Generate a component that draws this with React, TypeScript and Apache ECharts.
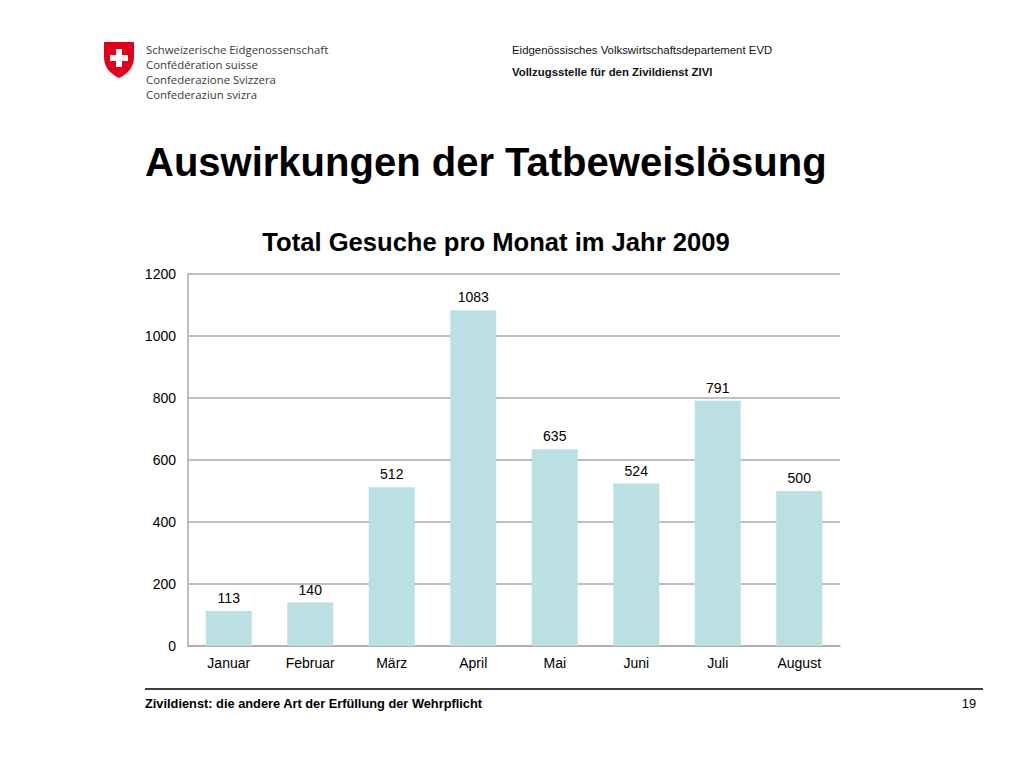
import React, { useEffect, useRef } from "react";
import * as echarts from "echarts";

const categories = ["Januar", "Februar", "März", "April", "Mai", "Juni", "Juli", "August"];
const values = [113, 140, 512, 1083, 635, 524, 791, 500];
const yTicks = { min: 0, max: 1200, interval: 200 };

const fedLines = [
  "Schweizerische Eidgenossenschaft",
  "Confédération suisse",
  "Confederazione Svizzera",
  "Confederaziun svizra",
];

echarts.graphic.registerShape(
  "shield",
  echarts.graphic.extendPath("M0 0 H30 V15 C30 26 23 32 15 36 C7 32 0 26 0 15 Z", {})
);

export default function App() {
  const ref = useRef<HTMLDivElement>(null);
  useEffect(() => {
    if (!ref.current) return;
    const chart = echarts.init(ref.current, null, { renderer: "svg" });
    const sans = "'Liberation Sans', Arial, sans-serif";
    const graphic: any[] = [
      { type: "shield", x: 104, y: 42, scaleX: 1, scaleY: 1, style: { fill: "#e2001a" } },
      { type: "rect", shape: { x: 116, y: 49, width: 6, height: 18 }, style: { fill: "#fff" } },
      { type: "rect", shape: { x: 110, y: 55, width: 18, height: 6 }, style: { fill: "#fff" } },
      ...fedLines.map((t, i) => ({
        type: "text",
        x: 146,
        y: 49 + i * 15,
        style: {
          text: t,
          font: "11.4px 'Open Sans', 'DejaVu Sans', sans-serif",
          fill: "#3a3a3a",
          verticalAlign: "middle",
        },
      })),
      {
        type: "text",
        x: 512,
        y: 50,
        style: { text: "Eidgenössisches Volkswirtschaftsdepartement EVD", font: `11.4px ${sans}`, fill: "#111", verticalAlign: "middle" },
      },
      {
        type: "text",
        x: 512,
        y: 72,
        style: { text: "Vollzugsstelle für den Zivildienst ZIVI", font: `bold 11.4px ${sans}`, fill: "#111", verticalAlign: "middle" },
      },
      {
        type: "text",
        x: 145,
        y: 162,
        style: { text: "Auswirkungen der Tatbeweislösung", font: `bold 40px ${sans}`, fill: "#000", verticalAlign: "middle" },
      },
      {
        type: "text",
        x: 496,
        y: 242,
        style: { text: "Total Gesuche pro Monat im Jahr 2009", font: `bold 25.6px ${sans}`, fill: "#000", align: "center", verticalAlign: "middle" },
      },
      { type: "line", shape: { x1: 145, y1: 689, x2: 983, y2: 689 }, style: { stroke: "#000", lineWidth: 1.5 } },
      {
        type: "text",
        x: 145,
        y: 703,
        style: { text: "Zivildienst: die andere Art der Erfüllung der Wehrpflicht", font: `bold 12.8px ${sans}`, fill: "#000", verticalAlign: "middle" },
      },
      {
        type: "text",
        x: 976,
        y: 703,
        style: { text: "19", font: `12.8px ${sans}`, fill: "#000", align: "right", verticalAlign: "middle" },
      },
    ];
    chart.setOption({
      animation: false,
      backgroundColor: "#fff",
      grid: { left: 188, right: 184, top: 274, bottom: 122, containLabel: false },
      xAxis: {
        type: "category",
        data: categories,
        axisLine: { lineStyle: { color: "#aaa", width: 1.5 } },
        axisTick: { show: false },
        axisLabel: { color: "#000", fontSize: 14, fontFamily: sans, margin: 10 },
      },
      yAxis: {
        type: "value",
        min: yTicks.min,
        max: yTicks.max,
        interval: yTicks.interval,
        axisLine: { show: true, lineStyle: { color: "#aaa", width: 1.5 } },
        axisTick: { show: false },
        splitLine: { lineStyle: { color: "#aaa", width: 1.5 } },
        axisLabel: { color: "#000", fontSize: 14, fontFamily: sans, margin: 12, formatter: (v: number) => String(v) },
      },
      series: [
        {
          type: "bar",
          data: values,
          barWidth: 46,
          itemStyle: { color: "#bae0e3" },
          label: { show: true, position: "top", distance: 6, color: "#000", fontSize: 14, fontFamily: sans },
        },
      ],
      graphic,
    });
    return () => chart.dispose();
  }, []);
  return <div ref={ref} style={{ position: "absolute", left: 0, top: 0, width: 1024, height: 768 }} />;
}
